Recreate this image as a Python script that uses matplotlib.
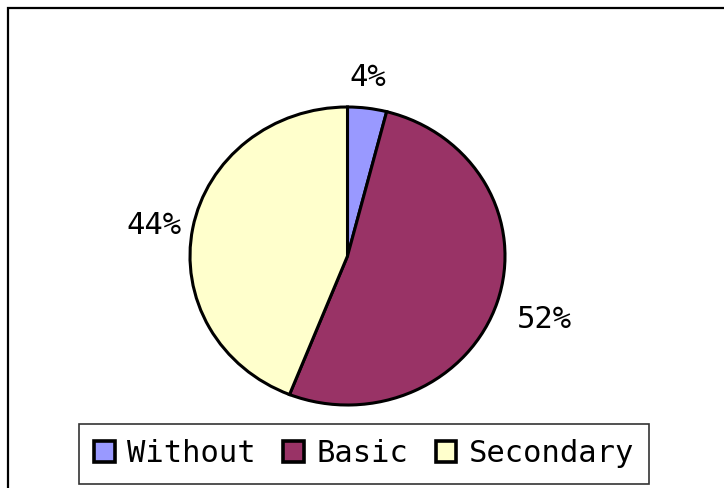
import matplotlib.pyplot as plt
from matplotlib.patches import Rectangle

plt.rcParams['font.family'] = ['DejaVu Sans Mono', 'DejaVu Sans']

categories = ['Without', 'Basic', 'Secondary']
shares = [4, 52, 44]
colors = ['#9999FF', '#993366', '#FFFFCC']

W, H = 724, 488
fig = plt.figure(figsize=(W / 100, H / 100), dpi=100)

# chart area border (runs off the right and bottom edges)
fig.patches.append(Rectangle((7.5 / W, -0.1), 1.2, 1.1 - 8.5 / H, transform=fig.transFigure,
                             fill=False, edgecolor='black', linewidth=1.6))

# pie is drawn slightly wider than tall
ax = fig.add_axes([190 / W, (H - 405) / H, 315 / W, 298 / H])
wedges, _ = ax.pie(shares, colors=colors, startangle=90, counterclock=False,
                   wedgeprops=dict(edgecolor='black', linewidth=2.2))
ax.set_aspect('auto')
ax.set_xlim(-1, 1)
ax.set_ylim(-1, 1)

# percentage labels
label_pos = [(368, 78), (544, 320), (154, 225)]
for v, (px, py) in zip(shares, label_pos):
    fig.text(px / W, 1 - py / H, f'{v}%', ha='center', va='center', fontsize=22)

leg = fig.legend(wedges, categories, loc='center', ncol=3,
                 bbox_to_anchor=(364 / W, 1 - 454 / H), fontsize=22,
                 frameon=True, fancybox=False, edgecolor='black',
                 handlelength=0.68, handleheight=0.68, handletextpad=0.4,
                 columnspacing=0.9, borderpad=0.5, borderaxespad=0)
leg.get_frame().set_linewidth(1.2)
for h in leg.legend_handles:
    h.set_linewidth(2.6)

fig.savefig('out.png', dpi=100)
